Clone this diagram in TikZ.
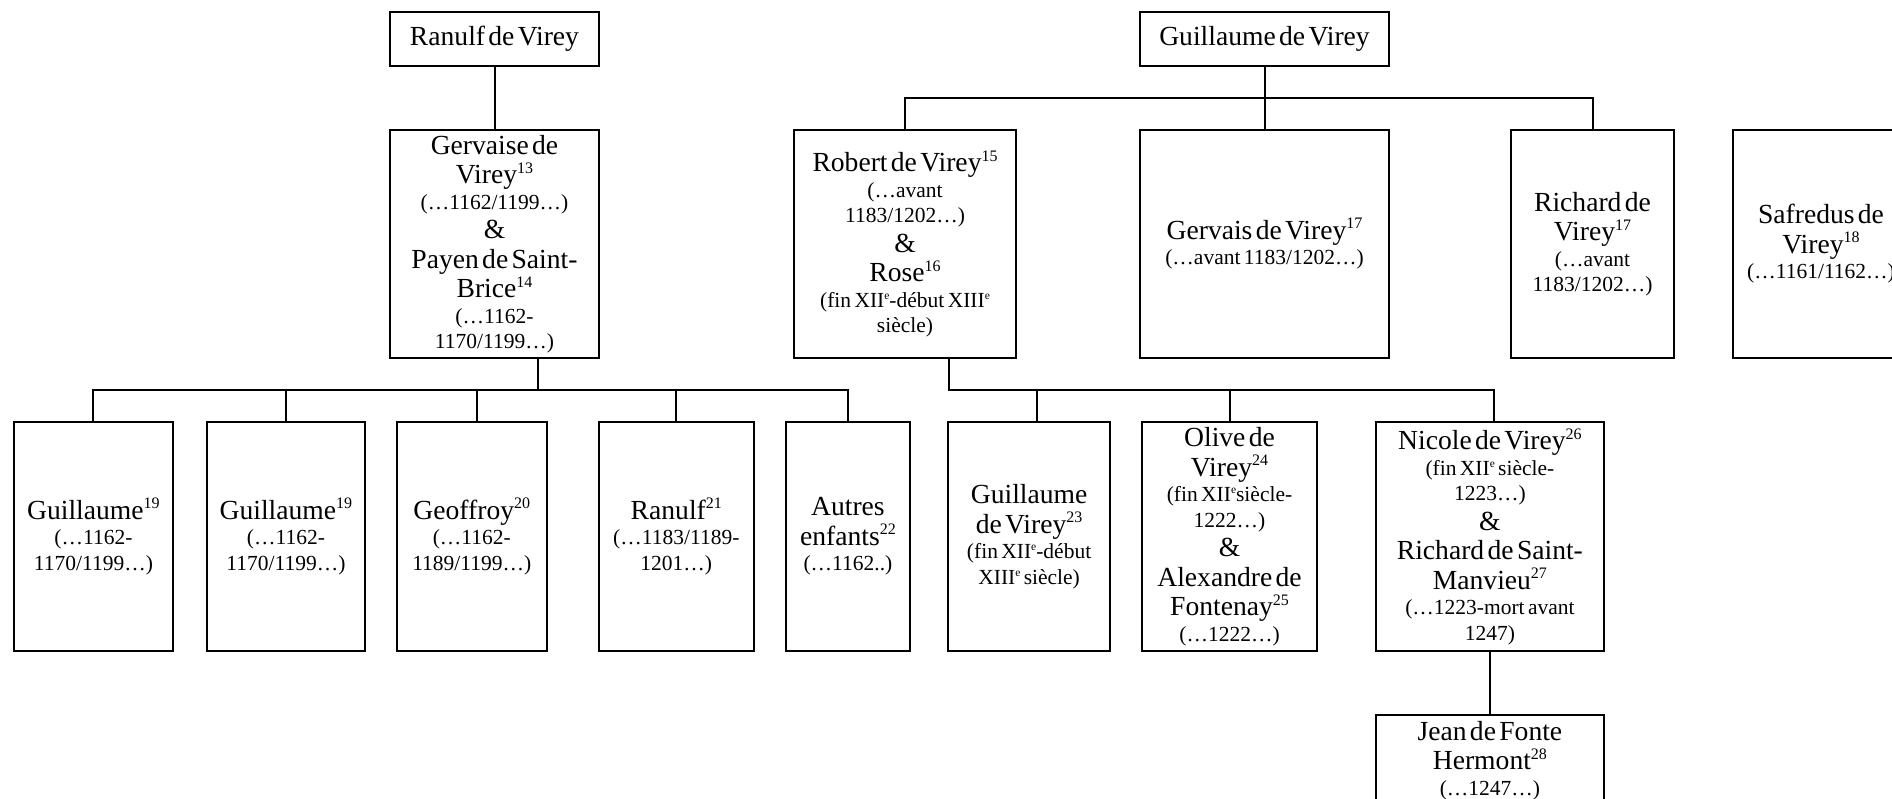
\documentclass[tikz,border=0pt]{standalone}
\usepackage{fontspec}
\setmainfont{Liberation Serif}
\usetikzlibrary{calc}
\setlength\parindent{0pt}
\newcommand\fontL{\fontsize{27.6}{29.5}\selectfont}
\newcommand\fontS{\fontsize{21.5}{25.5}\selectfont}
\newcommand\lineL[1]{{\fontL #1\par}}
\newcommand\lineS[1]{{\fontS #1\par}}
\newcommand\supL[1]{\raisebox{10.5pt}{\fontsize{16}{16}\selectfont #1}}
\newcommand\supS[1]{\raisebox{8pt}{\fontsize{11.5}{11.5}\selectfont #1}}
\tikzset{
  box/.style={draw, line width=2pt, inner xsep=0pt, inner ysep=0pt, align=center},
  top/.style={box, minimum height=54pt},
  mid/.style={box, minimum height=228pt},
  low/.style={box, minimum height=229pt},
  link/.style={line width=2pt}
}
\begin{document}
\begin{tikzpicture}[x=1pt,y=-1pt]
\useasboundingbox (0,0) rectangle (1892,798);
\clip (0,0) rectangle (1892,798);
% top row
\node[top, minimum width=209pt, text width=209pt] (ranulf) at (494.5,39) {\lineL{Ranulf de Virey}};
\node[top, minimum width=249pt, text width=249pt] (guill) at (1264.5,39) {\lineL{Guillaume de Virey}};
% second row
\node[mid, minimum width=209pt, text width=209pt] (gervaise) at (494.5,244) {%
\lineL{Gervaise de}\lineL{Virey\supL{13}}\lineS{(…1162/1199…)}\lineL{\&}%
\lineL{Payen de Saint-}\lineL{Brice\supL{14}}\lineS{(…1162-}\lineS{1170/1199…)}};
\node[mid, minimum width=222pt, text width=222pt] (robert) at (905,244) {%
\lineL{Robert de Virey\supL{15}}\lineS{(…avant}\lineS{1183/1202…)}\lineL{\&}%
\lineL{Rose\supL{16}}\lineS{(fin XII\supS{e}-début XIII\supS{e}}\lineS{siècle)}};
\node[mid, minimum width=249pt, text width=249pt] (gervais) at (1264.5,244) {%
\lineL{Gervais de Virey\supL{17}}\lineS{(…avant 1183/1202…)}};
\node[mid, minimum width=163pt, text width=163pt] (richard) at (1592.5,244) {%
\lineL{Richard de}\lineL{Virey\supL{17}}\lineS{(…avant}\lineS{1183/1202…)}};
\node[mid, minimum width=176pt, text width=176pt] (safredus) at (1821,244) {%
\lineL{Safredus de}\lineL{Virey\supL{18}}\lineS{(…1161/1162…)}};
% third row
\node[low, minimum width=159.6pt, text width=159.6pt] (g1) at (93.4,536.5) {%
\lineL{Guillaume\supL{19}}\lineS{(…1162-}\lineS{1170/1199…)}};
\node[low, minimum width=158.2pt, text width=158.2pt] (g2) at (285.9,536.5) {%
\lineL{Guillaume\supL{19}}\lineS{(…1162-}\lineS{1170/1199…)}};
\node[low, minimum width=150pt, text width=150pt] (geoffroy) at (471.8,536.5) {%
\lineL{Geoffroy\supL{20}}\lineS{(…1162-}\lineS{1189/1199…)}};
\node[low, minimum width=155.4pt, text width=155.4pt] (ranulfb) at (676.3,536.5) {%
\lineL{Ranulf\supL{21}}\lineS{(…1183/1189-}\lineS{1201…)}};
\node[low, minimum width=124.3pt, text width=124.3pt] (autres) at (847.9,536.5) {%
\lineL{Autres}\lineL{enfants\supL{22}}\lineS{(…1162..)}};
\node[low, minimum width=161.8pt, text width=161.8pt] (guillv) at (1029.1,536.5) {%
\lineL{Guillaume}\lineL{de Virey\supL{23}}\lineS{(fin XII\supS{e}-début}\lineS{XIII\supS{e} siècle)}};
\node[low, minimum width=175pt, text width=175pt] (olive) at (1229.5,536.5) {%
\lineL{Olive de}\lineL{Virey\supL{24}}\lineS{(fin XII\supS{e}siècle-}\lineS{1222…)}\lineL{\&}%
\lineL{Alexandre de}\lineL{Fontenay\supL{25}}\lineS{(…1222…)}};
\node[low, minimum width=228.3pt, text width=228.3pt] (nicole) at (1489.9,536.5) {%
\lineL{Nicole de Virey\supL{26}}\lineS{(fin XII\supS{e} siècle-}\lineS{1223…)}\lineL{\&}%
\lineL{Richard de Saint-}\lineL{Manvieu\supL{27}}\lineS{(…1223-mort avant}\lineS{1247)}};
% fourth row
\node[box, minimum width=228.3pt, text width=228.3pt, minimum height=91pt] (jean) at (1489.9,760.5) {%
\lineL{Jean de Fonte}\lineL{Hermont\supL{28}}\lineS{(…1247…)}};
% connection points
\coordinate (b1) at (1264.5,97.7);
\coordinate (d1) at (538,358);
\coordinate (b2) at (538,390);
\coordinate (d2) at (949,358);
\coordinate (b3) at (949,390);
\coordinate (geoN) at ($(geoffroy.north)+(5,0)$);
\coordinate (guvN) at ($(guillv.north)+(7.5,0)$);
\coordinate (nicN) at ($(nicole.north)+(4,0)$);
% connectors
\draw[link] (ranulf) -- (gervaise);
\draw[link] (guill) -- (gervais);
\draw[link] (robert.north) |- (b1) -| (richard.north);
\draw[link] (d1) -- (b2);
\draw[link] (g1.north) |- (b2) -| (autres.north);
\draw[link] (g2.north) -- (g2.north |- b2);
\draw[link] (geoN) -- (geoN |- b2);
\draw[link] (ranulfb.north) -- (ranulfb.north |- b2);
\draw[link] (d2) -- (b3) -| (nicN);
\draw[link] (guvN) -- (guvN |- b3);
\draw[link] (olive.north) -- (olive.north |- b3);
\draw[link] (nicole) -- (jean);
\end{tikzpicture}
\end{document}
